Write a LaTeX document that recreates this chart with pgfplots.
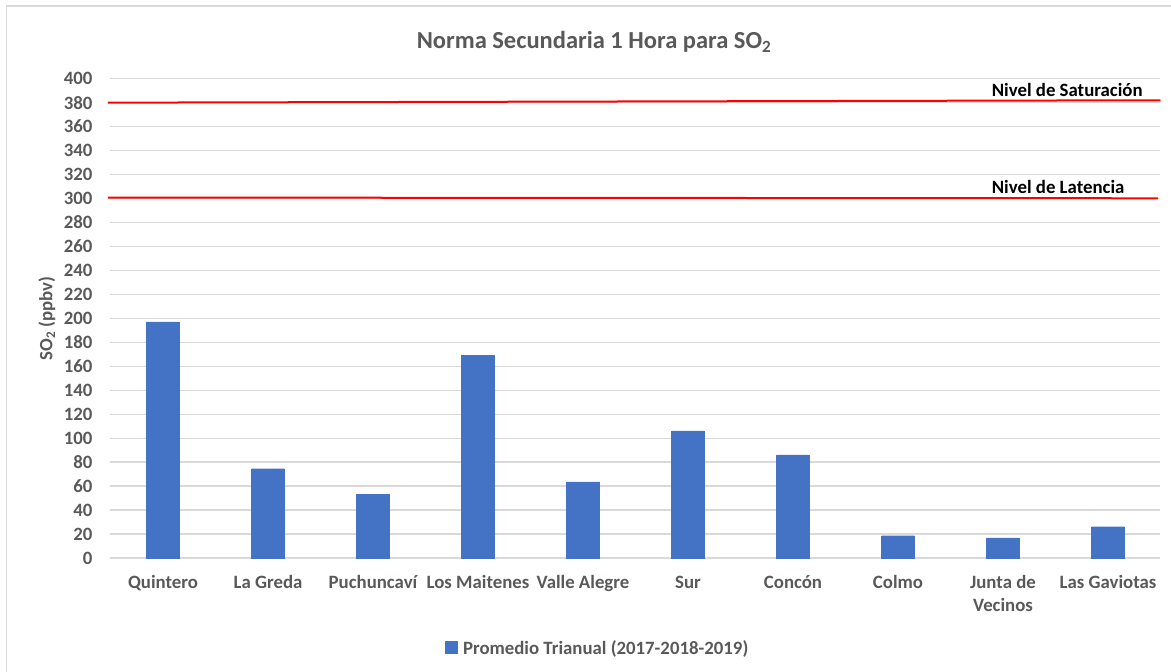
\documentclass[border=0pt]{standalone}
\usepackage{pgfplots}
\pgfplotsset{compat=1.18}
\usepackage{fontspec}
\setmainfont{Carlito}
\definecolor{barblue}{HTML}{4472C4}
\definecolor{txtgray}{HTML}{595959}
\definecolor{gridgray}{HTML}{D9D9D9}
\newcommand\lblfont{\fontsize{18.8bp}{23bp}\selectfont\bfseries}
\begin{document}
\begin{tikzpicture}
\useasboundingbox (-110.5bp,-114bp) rectangle (1060.5bp,558bp);
\draw[gridgray, line width=1.5bp] (-104bp,-114bp) -- (-104bp,552bp) -- (1060.5bp,552bp);
\begin{axis}[
  at={(0,0)}, anchor=south west,
  scale only axis, width=1050bp, height=479.3bp,
  xmin=-0.5, xmax=9.5, ymin=0, ymax=400,
  clip=false,
  axis line style={draw=none},
  major tick length=0pt,
  xtick={0,...,9},
  xticklabels={\strut Quintero, \strut La Greda, \strut Puchuncaví, \strut Los Maitenes, \strut Valle Alegre, \strut Sur, \strut Concón, \strut Colmo, {\strut Junta de\\\strut Vecinos}, \strut Las Gaviotas},
  ytick={0,20,...,400},
  ymajorgrids,
  grid style={gridgray, line width=1.3bp},
  /pgf/number format/assume math mode=true,
  xticklabel style={font=\lblfont, text=txtgray, anchor=north, align=center, inner sep=0pt, yshift=-14.6bp},
  yticklabel style={font=\lblfont, text=txtgray, anchor=east, inner sep=0pt, xshift=-17.8bp},
  every axis y label/.style={at={(axis description cs:-0.0605,0.5)}, rotate=90, anchor=center, font=\lblfont, text=txtgray},
  ylabel={SO\textsubscript{2} (ppbv)},
  title={Norma Secundaria 1 Hora para SO\textsubscript{2}},
  title style={at={(axis description cs:0.4605,1)}, anchor=base, yshift=24bp, font=\fontsize{24.5bp}{29bp}\selectfont\bfseries, text=txtgray},
  legend style={at={(axis description cs:0.464,-0.1857)}, anchor=center, draw=none, fill=none, font=\lblfont, text=txtgray},
  legend image code/.code={\fill[barblue] (0bp,-5.8bp) rectangle (11.6bp,5.8bp);},
]
\addplot[ybar, bar width=0.314, fill=barblue, draw=barblue] coordinates {
  (0,197) (1,74.5) (2,53.1) (3,169.4) (4,63.6) (5,106) (6,86) (7,18.6) (8,16.8) (9,26.1)
};
\addlegendentry{\hspace{4bp}\strut Promedio Trianual (2017-2018-2019)}
\addplot[red, line width=2bp, forget plot] coordinates {(-0.525,380) (9.5,382)};
\addplot[red, line width=2bp, forget plot] coordinates {(-0.525,300.8) (9.475,300.2)};
\node[anchor=base west, inner sep=0pt, font=\lblfont, text=black] at (axis cs:7.892,385.5) {Nivel de Saturación};
\node[anchor=base west, inner sep=0pt, font=\lblfont, text=black] at (axis cs:7.892,304.3) {Nivel de Latencia};
\end{axis}
\end{tikzpicture}
\end{document}
